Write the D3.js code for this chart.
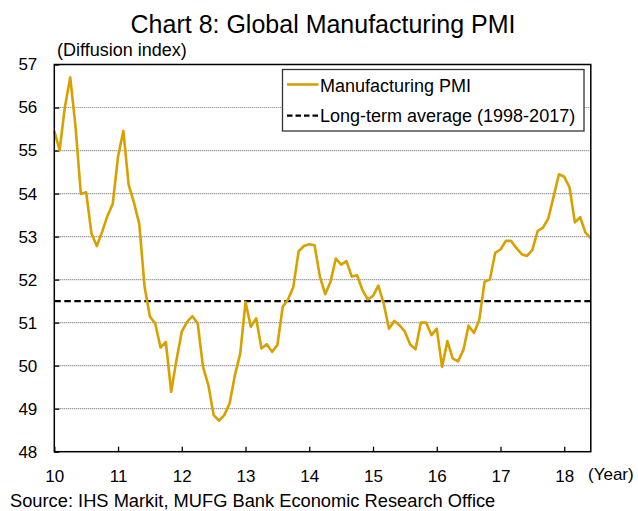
<!DOCTYPE html>
<html>
<head>
<meta charset="utf-8">
<script src="https://cdn.jsdelivr.net/npm/d3@7"></script>
<style>
  html, body { margin: 0; padding: 0; background: #fff; }
  svg { display: block; font-family: "Liberation Sans", Arial, sans-serif; }
</style>
</head>
<body>
<svg id="chart" width="638" height="511"></svg>
<script>
// Global manufacturing PMI, monthly, Jan 2010 – Jun 2018
const startYear = 2010;
const pmi = [
  55.45, 55.01, 56.02, 56.70, 55.55, 53.99, 54.03, 53.07, 52.78, 53.11, 53.48, 53.76,
  54.86, 55.46, 54.20, 53.79, 53.29, 51.83, 51.14, 50.98, 50.42, 50.55, 49.39, 50.13,
  50.79, 51.02, 51.15, 50.98, 49.97, 49.55, 48.85, 48.72, 48.85, 49.12, 49.78, 50.28,
  51.48, 50.90, 51.10, 50.40, 50.50, 50.32, 50.48, 51.37, 51.54, 51.83, 52.66, 52.78,
  52.82, 52.80, 52.07, 51.66, 51.95, 52.49, 52.35, 52.43, 52.07, 52.10, 51.76, 51.54,
  51.62, 51.86, 51.45, 50.86, 51.04, 50.94, 50.79, 50.49, 50.38, 51.00, 51.00, 50.71,
  50.86, 49.97, 50.57, 50.17, 50.10, 50.36, 50.93, 50.76, 51.06, 51.95, 52.00, 52.62,
  52.70, 52.90, 52.90, 52.73, 52.59, 52.55, 52.69, 53.13, 53.21, 53.42, 53.93, 54.45,
  54.39, 54.14, 53.33, 53.45, 53.09, 52.96
];
const longTermAverage = 51.5;
const yearLabels = ["10", "11", "12", "13", "14", "15", "16", "17", "18"];
const yTicks = [48, 49, 50, 51, 52, 53, 54, 55, 56, 57];
const seriesNames = ["Manufacturing PMI", "Long-term average (1998-2017)"];

const svg = d3.select("#chart");
const m = { left: 54.3, right: 47.2, top: 64.5, bottom: 59.3 };
const W = 638, H = 511;
const pw = W - m.left - m.right, ph = H - m.top - m.bottom;

const x = d3.scaleLinear().domain([0, pmi.length - 1]).range([m.left, m.left + pw]);
const y = d3.scaleLinear().domain([48, 57]).range([m.top + ph, m.top]);

const gold = "#D9A000";

// title and unit
svg.append("text").attr("x", 323).attr("y", 33).attr("text-anchor", "middle")
  .attr("font-size", 25).attr("fill", "#000").text("Chart 8: Global Manufacturing PMI");
svg.append("text").attr("x", 57).attr("y", 55.5)
  .attr("font-size", 18).attr("fill", "#000").text("(Diffusion index)");

// horizontal gridlines
svg.append("g").selectAll("line")
  .data(yTicks.filter(v => v > 48 && v < 57))
  .join("line")
  .attr("x1", m.left).attr("x2", m.left + pw)
  .attr("y1", d => y(d)).attr("y2", d => y(d))
  .attr("stroke", "#7a7a7a").attr("stroke-width", 1.2)
  .attr("stroke-dasharray", "1,1");

// y axis (ticks inward)
const yAxis = d3.axisLeft(y).tickValues(yTicks).tickSize(-5).tickPadding(17)
  .tickFormat(d3.format("d"));
const gy = svg.append("g").attr("transform", `translate(${m.left},0)`).call(yAxis);
gy.select(".domain").remove();
gy.selectAll(".tick line").attr("stroke", "#000").attr("stroke-width", 1.3);
gy.selectAll(".tick text").attr("font-size", 17).attr("fill", "#000")
  .attr("font-family", "Liberation Sans, Arial, sans-serif");

// x axis: year boundaries, ticks inward
const yearIdx = yearLabels.map((_, i) => i * 12);
const xAxis = d3.axisBottom(x).tickValues(yearIdx).tickSize(-5).tickPadding(18)
  .tickFormat((d, i) => yearLabels[i]);
const gx = svg.append("g").attr("transform", `translate(0,${m.top + ph})`).call(xAxis);
gx.select(".domain").remove();
gx.selectAll(".tick line").attr("stroke", "#000").attr("stroke-width", 1.3);
gx.selectAll(".tick text").attr("font-size", 17).attr("fill", "#000")
  .attr("font-family", "Liberation Sans, Arial, sans-serif");
svg.append("text").attr("x", 588).attr("y", 480)
  .attr("font-size", 17).attr("fill", "#000").text("(Year)");

// long-term average
svg.append("line")
  .attr("x1", m.left).attr("x2", m.left + pw)
  .attr("y1", y(longTermAverage)).attr("y2", y(longTermAverage))
  .attr("stroke", "#000").attr("stroke-width", 2.2)
  .attr("stroke-dasharray", "6.5,3.5");

// PMI line
svg.append("path").datum(pmi)
  .attr("fill", "none").attr("stroke", gold).attr("stroke-width", 2.6)
  .attr("stroke-linejoin", "round")
  .attr("d", d3.line().x((d, i) => x(i)).y(d => y(d)));

// plot frame
svg.append("rect").attr("x", m.left).attr("y", m.top).attr("width", pw).attr("height", ph)
  .attr("fill", "none").attr("stroke", "#000").attr("stroke-width", 1.5);

// legend
const lg = svg.append("g");
lg.append("rect").attr("x", 282.5).attr("y", 69.5).attr("width", 301.5).attr("height", 61.5)
  .attr("fill", "#fff").attr("stroke", "#333").attr("stroke-width", 1.3);
lg.append("line").attr("x1", 287).attr("x2", 318.5).attr("y1", 84.5).attr("y2", 84.5)
  .attr("stroke", gold).attr("stroke-width", 2.6);
lg.append("text").attr("x", 320).attr("y", 91.5).attr("font-size", 18).attr("fill", "#000")
  .text(seriesNames[0]);
lg.append("line").attr("x1", 287).attr("x2", 318.5).attr("y1", 115.7).attr("y2", 115.7)
  .attr("stroke", "#000").attr("stroke-width", 2.2).attr("stroke-dasharray", "5.5,3");
lg.append("text").attr("x", 320).attr("y", 121.5).attr("font-size", 18).attr("fill", "#000")
  .text(seriesNames[1]);

// source
svg.append("text").attr("x", 10).attr("y", 506.5).attr("font-size", 18.3).attr("fill", "#000")
  .text("Source: IHS Markit, MUFG Bank Economic Research Office");
</script>
</body>
</html>
